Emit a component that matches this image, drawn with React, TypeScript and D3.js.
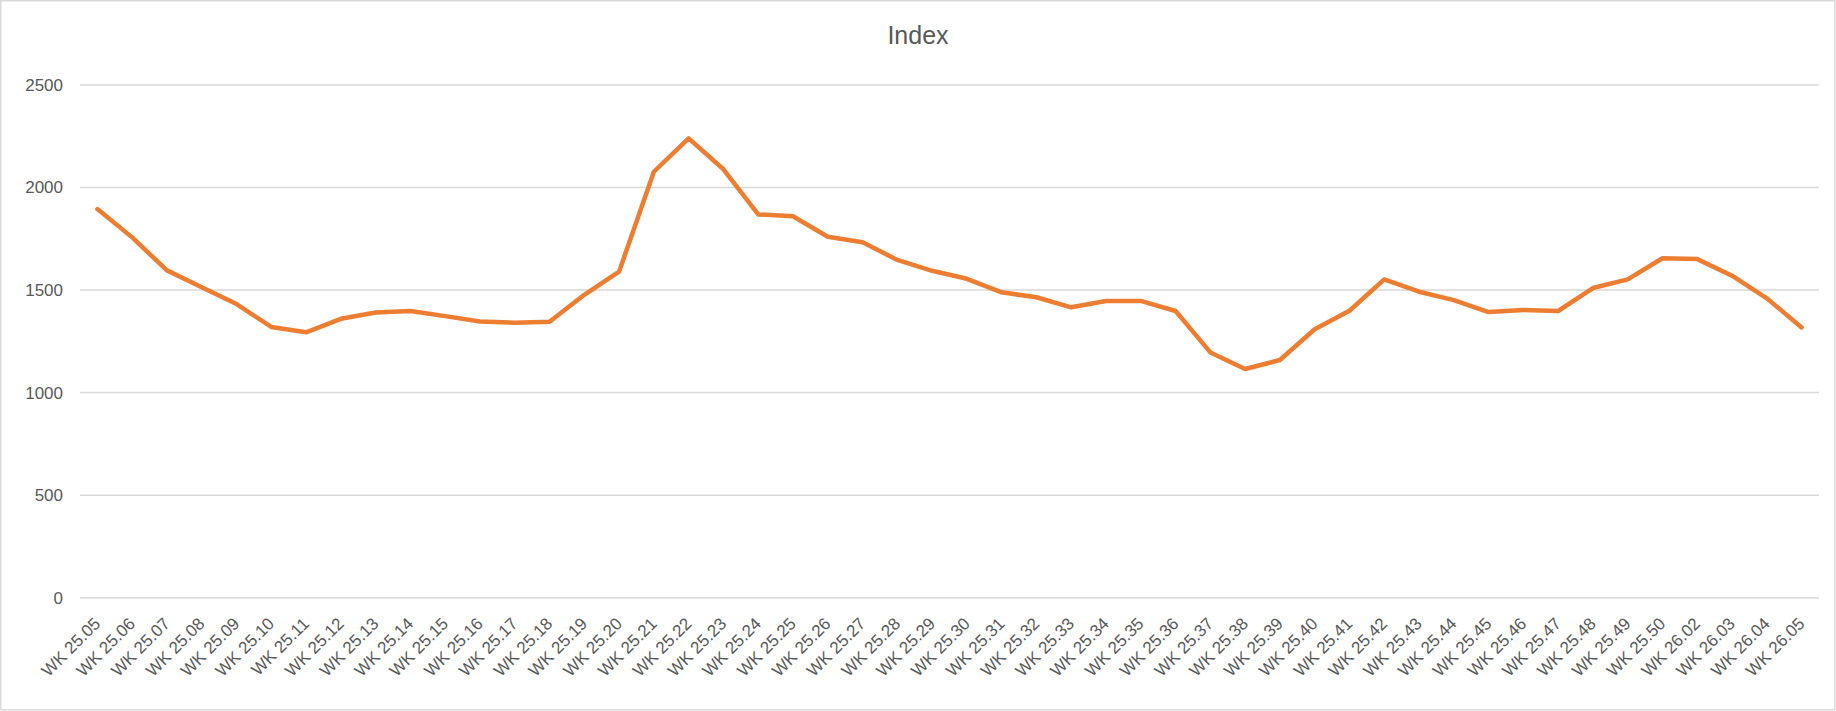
import React from "react";
import * as d3 from "d3";

const weeks: string[] = [
  "WK 25.05", "WK 25.06", "WK 25.07", "WK 25.08", "WK 25.09", "WK 25.10", "WK 25.11", "WK 25.12",
  "WK 25.13", "WK 25.14", "WK 25.15", "WK 25.16", "WK 25.17", "WK 25.18", "WK 25.19", "WK 25.20",
  "WK 25.21", "WK 25.22", "WK 25.23", "WK 25.24", "WK 25.25", "WK 25.26", "WK 25.27", "WK 25.28",
  "WK 25.29", "WK 25.30", "WK 25.31", "WK 25.32", "WK 25.33", "WK 25.34", "WK 25.35", "WK 25.36",
  "WK 25.37", "WK 25.38", "WK 25.39", "WK 25.40", "WK 25.41", "WK 25.42", "WK 25.43", "WK 25.44",
  "WK 25.45", "WK 25.46", "WK 25.47", "WK 25.48", "WK 25.49", "WK 25.50", "WK 26.02", "WK 26.03",
  "WK 26.04", "WK 26.05",
];

const indexValues: number[] = [
  1895, 1757, 1596, 1514, 1432, 1320, 1294, 1360, 1391, 1398, 1373, 1347, 1341, 1346, 1477, 1590,
  2077, 2240, 2089, 1869, 1860, 1760, 1733, 1647, 1594, 1555, 1489, 1465, 1416, 1447, 1447, 1398,
  1196, 1115, 1159, 1309, 1399, 1552, 1492, 1451, 1393, 1403, 1398, 1510, 1552, 1655, 1651, 1570,
  1460, 1318,
];

const yTicks: number[] = [0, 500, 1000, 1500, 2000, 2500];
const chartTitle = "Index";

const W = 1836;
const H = 711;
const PLOT_LEFT = 80;
const PLOT_RIGHT = 1819;
const PLOT_TOP = 85;
const PLOT_BOTTOM = 597.7;
const FONT = "'Liberation Sans', Arial, sans-serif";
const TEXT = "#595959";
const GRID = "#d9d9d9";

export default function App() {
  const x = d3.scaleBand<string>().domain(weeks).range([PLOT_LEFT, PLOT_RIGHT]).padding(0);
  const y = d3.scaleLinear().domain([0, 2500]).range([PLOT_BOTTOM, PLOT_TOP]);
  const cx = (w: string) => (x(w) ?? 0) + x.bandwidth() / 2;

  const line = d3
    .line<number>()
    .x((_, i) => cx(weeks[i]))
    .y((d) => y(d));

  return (
    <div style={{ position: "absolute", left: 0, top: 0 }}>
      <svg width={W} height={H} style={{ display: "block", background: "#fff" }}>
        <rect x={0.75} y={0.75} width={1834} height={709} fill="#fff" stroke={GRID} strokeWidth={1.5} />
        <text
          x={918}
          y={44}
          textAnchor="middle"
          fontFamily={FONT}
          fontSize={25}
          fill={TEXT}
        >
          {chartTitle}
        </text>
        {yTicks.map((t) => (
          <g key={t}>
            <line
              x1={PLOT_LEFT}
              x2={PLOT_RIGHT}
              y1={y(t)}
              y2={y(t)}
              stroke={GRID}
              strokeWidth={1.5}
            />
            <text
              x={63}
              y={y(t)}
              dy="0.35em"
              textAnchor="end"
              fontFamily={FONT}
              fontSize={17}
              fill={TEXT}
            >
              {t}
            </text>
          </g>
        ))}
        {weeks.map((w) => (
          <text
            key={w}
            transform={`translate(${cx(w) + 4},${PLOT_BOTTOM + 27}) rotate(-45)`}
            textAnchor="end"
            fontFamily={FONT}
            fontSize={17}
            fill={TEXT}
          >
            {w}
          </text>
        ))}
        <path
          d={line(indexValues) ?? ""}
          fill="none"
          stroke="#ED7D31"
          strokeWidth={4.5}
          strokeLinejoin="round"
          strokeLinecap="round"
        />
      </svg>
    </div>
  );
}
